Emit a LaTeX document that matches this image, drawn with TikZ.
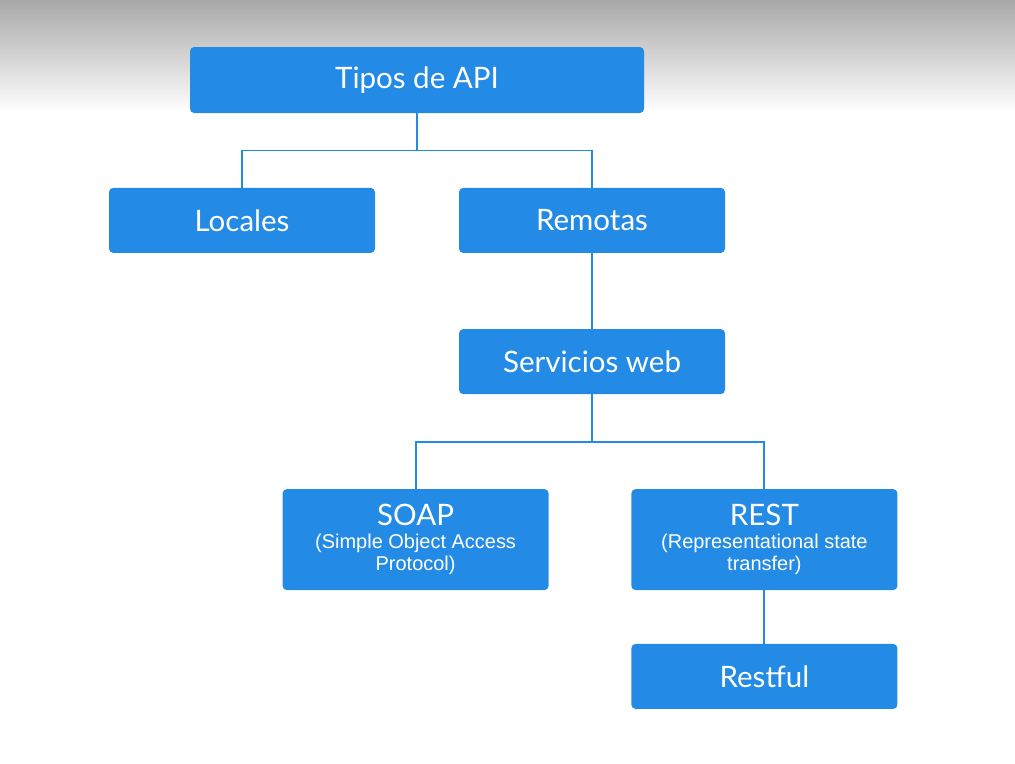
\documentclass[tikz,border=0pt]{standalone}
\usepackage{fontspec}
\setmainfont{Lato}
\newfontfamily\subfont{Liberation Sans}
\usepackage{xcolor}
\usetikzlibrary{positioning}
\definecolor{apiblue}{RGB}{35,139,230}
\definecolor{topgray}{RGB}{168,168,168}
\newcommand{\subsize}{\subfont\fontsize{14.2}{15.6}\selectfont}

\begin{document}
\begin{tikzpicture}[
        box/.style={rectangle, fill=apiblue, rounded corners=3pt,
            minimum width=6.65cm, minimum height=1.625cm, align=center,
            text=white, font=\fontsize{21}{25}\selectfont, inner sep=2pt},
        tallbox/.style={box, minimum height=2.525cm},
        link/.style={draw=apiblue, line width=1.4pt}
    ]
        % background and frame
        \useasboundingbox (0,0) rectangle (25.375,-19.075);
        \fill[white] (0,0) rectangle (25.375,-19.075);
        \shade[top color=topgray, bottom color=white] (0,0) rectangle (25.375,-2.8);

        \node[box, minimum width=11.35cm, minimum height=1.65cm] (tipos) at (10.425,-2.0) {Tipos de API};
        \node[box] (locales) at (6.05,-5.51) {Locales};
        \node[box] (remotas) at (14.8,-5.51) {Remotas};
        \node[box] (servicios) at (14.8,-9.04) {Servicios web};
        \node[tallbox] (soap) at (10.39,-13.49) {SOAP\\[-9pt]
            \subsize (Simple Object Access\\[-9pt]\subsize Protocol)};
        \node[tallbox] (rest) at (19.11,-13.49) {REST\\[-9pt]
            \subsize (Representational state\\[-9pt]\subsize transfer)};
        \node[box] (restful) at (19.11,-16.91) {Restful};

        \draw[link] (tipos.south) -- ++(0,-0.93) coordinate (split1) -| (locales.north);
        \draw[link] (split1) -| (remotas.north);
        \draw[link] (remotas) -- (servicios);
        \draw[link] (servicios.south) -- ++(0,-1.18) coordinate (split2) -| (soap.north);
        \draw[link] (split2) -| (rest.north);
        \draw[link] (rest) -- (restful);
    \end{tikzpicture}
\end{document}
